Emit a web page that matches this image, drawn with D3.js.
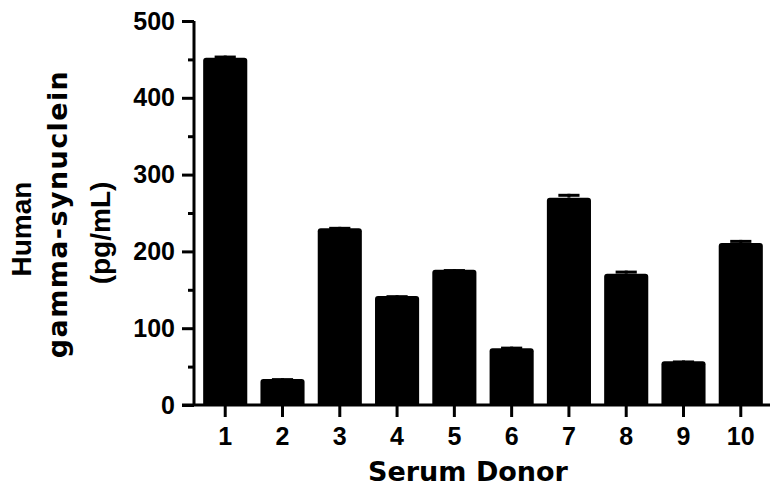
<!DOCTYPE html>
<html>
<head>
<meta charset="utf-8">
<script src="https://cdn.jsdelivr.net/npm/d3@7"></script>
<style>
  body { margin: 0; background: #fff; }
  text { font-family: "Liberation Sans", Arial, sans-serif; font-weight: 700; fill: #000; }
  .wide { font-family: "DejaVu Sans", sans-serif; }
</style>
</head>
<body>
<svg width="773" height="488"></svg>
<script>
const donors = ["1", "2", "3", "4", "5", "6", "7", "8", "9", "10"];
const means = [452, 34, 230, 142, 176, 74, 270, 171, 57, 211];
const errors = [3, 1, 2, 1, 1, 2, 5, 4, 1, 4];
const majorTicks = [0, 100, 200, 300, 400, 500];
const minorTicks = [50, 150, 250, 350, 450];
const yLabelLines = ["Human", "gamma-synuclein", "(pg/mL)"];

const svg = d3.select("svg");

const x0 = 194, x1 = 772;
const yTop = 21, yBottom = 405;

const xScaler = d3.scaleBand().domain(donors).range([x0, x1])
  .paddingInner(0.23).paddingOuter(0.16);
const yScaler = d3.scaleLinear().domain([0, 500]).range([yBottom, yTop]);

// bars, slightly rounded top corners
svg.append("g")
  .selectAll("path")
  .data(means)
  .join("path")
  .attr("fill", "#000")
  .attr("d", (d, i) => {
    const bx = xScaler(donors[i]);
    const bw = xScaler.bandwidth();
    const by = yScaler(d);
    const r = 3;
    return `M${bx},${yBottom} V${by + r} Q${bx},${by} ${bx + r},${by} H${bx + bw - r} Q${bx + bw},${by} ${bx + bw},${by + r} V${yBottom} Z`;
  });

// error bars (upper only)
const errG = svg.append("g").attr("stroke", "#000").attr("stroke-width", 3);
means.forEach((d, i) => {
  const cx = xScaler(donors[i]) + xScaler.bandwidth() / 2;
  const half = xScaler.bandwidth() * 0.24;
  errG.append("line")
    .attr("x1", cx).attr("x2", cx)
    .attr("y1", yScaler(d)).attr("y2", yScaler(d + errors[i]));
  errG.append("line")
    .attr("x1", cx - half).attr("x2", cx + half)
    .attr("y1", yScaler(d + errors[i]) + 1.5).attr("y2", yScaler(d + errors[i]) + 1.5);
});

// y axis
const yAxisGroup = svg.append("g").attr("transform", `translate(${x0},0)`);
yAxisGroup.call(d3.axisLeft(yScaler).tickValues(majorTicks).tickSize(12).tickPadding(7).tickFormat(d3.format("d")));
yAxisGroup.append("g")
  .call(d3.axisLeft(yScaler).tickValues(minorTicks).tickSize(6).tickFormat(""))
  .select(".domain").remove();
yAxisGroup.selectAll(".domain").attr("d", `M0,${yTop}V${yBottom}`);

// x axis
const xAxisGroup = svg.append("g").attr("transform", `translate(0,${yBottom})`);
xAxisGroup.call(d3.axisBottom(xScaler).tickSize(12).tickPadding(10).tickSizeOuter(0));
xAxisGroup.select(".domain").attr("d", `M${x0 - 12},0H${x1 - 2}`);

svg.selectAll(".domain, .tick line").attr("stroke", "#000").attr("stroke-width", 3);
svg.selectAll(".tick text").style("font-size", "25px");

// axis titles
svg.append("text")
  .attr("class", "wide")
  .attr("x", 468)
  .attr("y", 481)
  .attr("text-anchor", "middle")
  .style("font-size", "27px")
  .text("Serum Donor");

const titleCenters = [229, 214, 233];
const titleBaselines = [31, 67, 110];
const titleSpacing = [0, 1.4, 0];
yLabelLines.forEach((t, i) => {
  svg.append("text")
    .attr("class", i === 1 ? "wide" : null)
    .attr("transform", `translate(${titleBaselines[i]},${titleCenters[i]}) rotate(-90)`)
    .attr("text-anchor", "middle")
    .style("font-size", i === 1 ? "27px" : "28px")
    .style("letter-spacing", titleSpacing[i] + "px")
    .text(t);
});
</script>
</body>
</html>
